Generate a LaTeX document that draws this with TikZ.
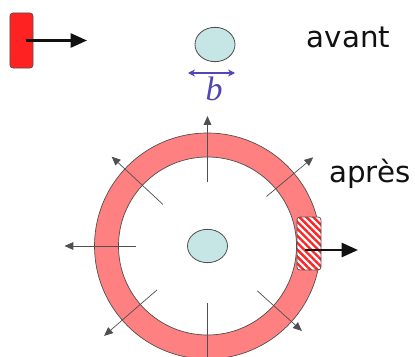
\documentclass[tikz,border=0pt]{standalone}
\usepackage{fontspec}
\setmainfont{DejaVu Sans}
\newfontfamily\symserif{Liberation Serif}
\usetikzlibrary{arrows.meta,calc,positioning,patterns.meta,shapes.geometric}
\definecolor{ink}{HTML}{111111}
\definecolor{rodred}{HTML}{FF2222}
\definecolor{band}{HTML}{FF8080}
\definecolor{edge}{HTML}{505050}
\definecolor{cell}{HTML}{C6E6E6}
\definecolor{gauge}{HTML}{5046B4}

\begin{document}
\begin{tikzpicture}[x=0.03cm,y=0.03cm,>=Stealth,
 push/.style={-{Triangle[length=14pt,width=12pt]},line width=2.2pt,ink},
 ray/.style={-{Triangle[length=7.5pt,width=6.5pt]},line width=0.6pt,edge},
 blob/.style={ellipse,draw=edge,fill=cell,line width=0.7pt,minimum width=1.2cm,minimum height=1.03cm,inner sep=0pt},
 word/.style={anchor=base,font=\fontsize{25}{30}\selectfont,text=ink}]
\useasboundingbox (0,0) rectangle (415,356);
% before: the rod and the lone cell
\node[draw=edge,fill=rodred,line width=0.6pt,rounded corners=2.5pt,minimum width=0.69cm,minimum height=1.65cm,inner sep=0pt] (rod) at (21.5,315.5) {};
\coordinate (rodtip) at (87,315.5);
\draw[push] ($(rod.center)+(4,0)$) -- (rodtip);
\node[blob] (cellA) at (215,311.5) {};
\coordinate (bl) at (188,283);
\coordinate (br) at (235,283);
\draw[gauge,line width=0.9pt,{Stealth[length=6pt,width=6pt]}-{Stealth[length=6pt,width=6pt]}] (bl) -- (br);
\node[text=gauge,font=\symserif\itshape\fontsize{29}{29}\selectfont,inner sep=0pt] (bsym) at (214,267) {b};
\node[word] (avant) at (348.5,308) {avant};
% after: the ring round the cell
\coordinate (hub) at (207.5,110);
\fill[band,even odd rule] (hub) circle (113) (hub) circle (89);
\draw[edge,line width=0.6pt] (hub) circle (113) (hub) circle (89);
\foreach \a/\ri/\ro [count=\n] in {90/64/130,137/61/131,180/72/143,221/67/137,270/57/135,318/67/127,40/77/138} {
 \coordinate (r\n a) at ($(hub)+(\a:\ri)$);
 \coordinate (r\n b) at ($(hub)+(\a:\ro)$);
 \draw[ray] (r\n a) -- (r\n b);}
\node[blob,minimum height=1.0cm] (cellB) at (hub) {};
\node[draw=edge,line width=0.6pt,rounded corners=2.5pt,minimum width=0.72cm,minimum height=1.59cm,inner sep=0pt,
 preaction={fill=white},pattern={Lines[angle=-45,distance=4.2pt,line width=2pt]},pattern color=rodred] (patch) at (309,112.5) {};
\coordinate (patchtip) at (358,106);
\draw[push] ($(patch.center)+(-4,-6.5)$) -- (patchtip);
\node[word] (apres) at (370,174) {après};
\end{tikzpicture}
\end{document}
